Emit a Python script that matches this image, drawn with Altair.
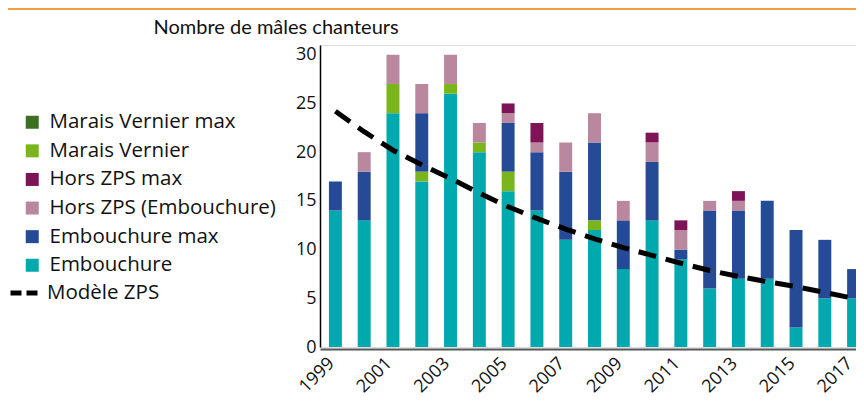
import altair as alt
import pandas as pd

years = list(range(1999, 2018))

# stacked series (bottom to top)
embouchure = [14, 13, 24, 17, 26, 20, 16, 14, 11, 12, 8, 13, 9, 6, 7, 7, 2, 5, 5]
marais_vernier = [0, 0, 3, 1, 1, 1, 2, 0, 0, 1, 0, 0, 0, 0, 0, 0, 0, 0, 0]
embouchure_max = [3, 5, 0, 6, 0, 0, 5, 6, 7, 8, 5, 6, 1, 8, 7, 8, 10, 6, 3]
hors_zps = [0, 2, 3, 3, 3, 2, 1, 1, 3, 3, 2, 2, 2, 1, 1, 0, 0, 0, 0]
hors_zps_max = [0, 0, 0, 0, 0, 0, 1, 2, 0, 0, 0, 1, 1, 0, 1, 0, 0, 0, 0]
marais_vernier_max = [0] * 19

modele_zps = [24.2, 22.1, 20.2, 18.7, 17.3, 15.8, 14.4, 13.2, 12.1, 11.1,
              10.2, 9.4, 8.6, 7.85, 7.25, 6.7, 6.2, 5.6, 5.0]

stack_series = [
    ("Embouchure", embouchure),
    ("Marais Vernier", marais_vernier),
    ("Embouchure max", embouchure_max),
    ("Hors ZPS (Embouchure)", hors_zps),
    ("Hors ZPS max", hors_zps_max),
    ("Marais Vernier max", marais_vernier_max),
]

legend_order = ["Marais Vernier max", "Marais Vernier", "Hors ZPS max",
                "Hors ZPS (Embouchure)", "Embouchure max", "Embouchure"]
legend_colors = ["#3B7022", "#7AB51E", "#7E1457", "#B9889F", "#264B96", "#00A9AE"]

year_labels = [1999, 2001, 2003, 2005, 2007, 2009, 2011, 2013, 2015, 2017]
y_ticks = [0, 5, 10, 15, 20, 25, 30]

rows = []
for k, (name, vals) in enumerate(stack_series):
    for yr, v in zip(years, vals):
        rows.append({"year": yr, "serie": name, "value": v, "ordre": k})
bars_df = pd.DataFrame(rows)

line_df = pd.DataFrame({"year": years, "model": modele_zps,
                        "label": ["Modèle ZPS"] * len(years)})

FONT = "Lato"
LFONT = "Open Sans"

xscale = alt.Scale(range=[0, 549], paddingInner=0.55, paddingOuter=0.31)
yscale = alt.Scale(domain=[0, 31], nice=False)

xaxis = alt.Axis(values=year_labels, labelAngle=-45, labelFontSize=18,
                 labelFont=LFONT, labelColor="#111", ticks=False, title=None,
                 domainColor="#555", domainWidth=2, offset=2, labelPadding=5,
                 labelOffset=-10)
yaxis = alt.Axis(values=y_ticks, labelFontSize=18, labelFont=LFONT,
                 labelColor="#111", ticks=False, grid=False, domainColor="#000",
                 domainWidth=1.5, labelPadding=4,
                 title="Nombre de mâles chanteurs", titleAngle=0,
                 titleAlign="left", titleBaseline="alphabetic",
                 titleX=-167, titleY=-12, titleFontSize=20,
                 titleFontWeight="normal", titleFont=FONT, titleColor="#111")

bars = alt.Chart(bars_df).mark_bar().encode(
    x=alt.X("year:O", scale=xscale, axis=xaxis),
    y=alt.Y("value:Q", stack="zero", scale=yscale, axis=yaxis),
    color=alt.Color("serie:N",
                    scale=alt.Scale(domain=legend_order, range=legend_colors),
                    legend=alt.Legend(orient="none", legendX=-298, legendY=67,
                                      title=None, symbolType="square",
                                      symbolSize=169, labelFontSize=20.5,
                                      labelFont=LFONT, labelColor="#111",
                                      labelOffset=7, rowPadding=7.6,
                                      labelLimit=0,
                                      padding=0, symbolStrokeWidth=0)),
    order=alt.Order("ordre:Q"),
)

line = alt.Chart(line_df).mark_line(strokeWidth=5, strokeDash=[18, 10]).encode(
    x=alt.X("year:O", scale=xscale),
    y=alt.Y("model:Q", scale=yscale),
    stroke=alt.Stroke("label:N",
                      scale=alt.Scale(domain=["Modèle ZPS"], range=["#000000"]),
                      legend=alt.Legend(orient="none", legendX=-312, legendY=232,
                                        title=None, symbolType="stroke",
                                        symbolSize=729, symbolStrokeWidth=5,
                                        symbolDash=[11, 5], labelFontSize=20.5,
                                        labelFont=LFONT, labelColor="#111",
                                        labelOffset=7, labelLimit=0,
                                        padding=0)),
)

top_rule = alt.Chart(pd.DataFrame({"a": [0]})).mark_rule(
    color="#F2A03D", strokeWidth=2).encode(
    x=alt.value(-312), x2=alt.value(544), y=alt.value(-36))

chart = alt.layer(bars, line, top_rule).resolve_scale(
    color="independent", stroke="independent"
).properties(
    width=536, height=302,
    autosize=alt.AutoSizeParams(type="none"),
    padding={"left": 312, "top": 37, "right": 0, "bottom": 53},
).configure_view(stroke=None).configure(background="white")

chart.save("out.html", embed_options={"renderer": "svg", "actions": False})
